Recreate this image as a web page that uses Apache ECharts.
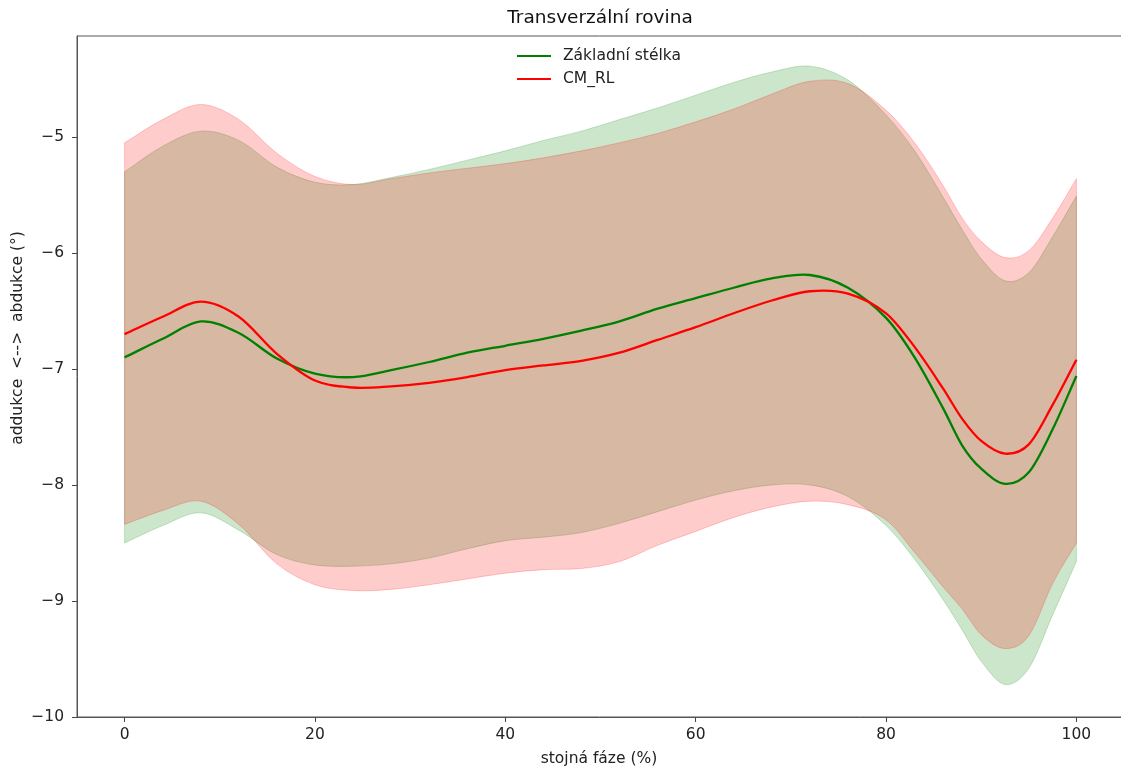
<!DOCTYPE html>
<html>
<head>
<meta charset="utf-8">
<script src="https://cdn.jsdelivr.net/npm/echarts@6/dist/echarts.min.js"></script>
<style>
html,body{margin:0;padding:0;background:#fff;}
#chart{width:1121px;height:769px;}
</style>
</head>
<body>
<div id="chart"></div>
<script>
// stance phase (%)
const xs = [0,4,8,12,16,20,24,28,32,36,40,44,48,52,56,60,64,68,72,76,80,83,86,88,90,92.5,95,97.5,100];
// Základní stélka (green)
const greenMean  = [-6.90,-6.74,-6.59,-6.69,-6.91,-7.04,-7.07,-7.01,-6.94,-6.86,-6.80,-6.74,-6.67,-6.59,-6.48,-6.39,-6.30,-6.22,-6.19,-6.30,-6.56,-6.90,-7.34,-7.66,-7.86,-7.99,-7.89,-7.52,-7.06];
const greenUpper = [-5.30,-5.08,-4.95,-5.03,-5.26,-5.39,-5.41,-5.35,-5.28,-5.20,-5.12,-5.03,-4.95,-4.85,-4.75,-4.64,-4.53,-4.44,-4.39,-4.51,-4.81,-5.12,-5.52,-5.80,-6.05,-6.24,-6.17,-5.86,-5.51];
const greenLower = [-8.50,-8.35,-8.24,-8.39,-8.60,-8.69,-8.70,-8.68,-8.63,-8.55,-8.48,-8.45,-8.41,-8.33,-8.23,-8.13,-8.05,-8.00,-8.00,-8.10,-8.35,-8.64,-8.99,-9.25,-9.52,-9.72,-9.58,-9.12,-8.66];
// CM_RL (red)
const redMean  = [-6.70,-6.55,-6.42,-6.55,-6.87,-7.10,-7.16,-7.15,-7.12,-7.07,-7.01,-6.97,-6.93,-6.86,-6.75,-6.64,-6.52,-6.41,-6.33,-6.35,-6.52,-6.81,-7.17,-7.43,-7.62,-7.73,-7.65,-7.31,-6.92];
const redUpper = [-5.05,-4.85,-4.72,-4.85,-5.14,-5.34,-5.41,-5.36,-5.31,-5.27,-5.23,-5.18,-5.12,-5.05,-4.97,-4.87,-4.76,-4.63,-4.52,-4.54,-4.77,-5.05,-5.42,-5.70,-5.90,-6.04,-5.98,-5.70,-5.36];
const redLower = [-8.34,-8.22,-8.14,-8.34,-8.68,-8.86,-8.91,-8.90,-8.86,-8.81,-8.76,-8.73,-8.72,-8.66,-8.52,-8.40,-8.28,-8.19,-8.14,-8.17,-8.30,-8.58,-8.88,-9.07,-9.29,-9.41,-9.30,-8.85,-8.50];
// tick labels
const xTicks = [0,20,40,60,80,100];
const yTicks = [-10,-9,-8,-7,-6,-5];
const names = ['Základní stélka','CM_RL'];

const FONT = 'DejaVu Sans';

// cubic Hermite curve (slopes from neighbours, non-uniform spacing) through pixel points
function splineSegs(pts) {
  const n = pts.length, s = [];
  for (let i = 0; i < n; i++) {
    const a = pts[Math.max(i - 1, 0)], b = pts[Math.min(i + 1, n - 1)];
    s.push((b[1] - a[1]) / (b[0] - a[0]));
  }
  let d = '';
  for (let i = 0; i < n - 1; i++) {
    const p1 = pts[i], p2 = pts[i + 1], h = (p2[0] - p1[0]) / 3;
    d += ' C' + (p1[0] + h) + ',' + (p1[1] + s[i] * h) + ' ' + (p2[0] - h) + ',' + (p2[1] - s[i + 1] * h) + ' ' + p2[0] + ',' + p2[1];
  }
  return d;
}

function bandSeries(id, upper, lower, rgba) {
  return {
    type:'custom', id:id, silent:true, z:1, data:[[50,-7]],
    renderItem: function(params, api) {
      const up = xs.map((x,i)=>api.coord([x, upper[i]]));
      const lo = xs.map((x,i)=>api.coord([x, lower[i]])).reverse();
      const d = 'M' + up[0][0] + ',' + up[0][1] + splineSegs(up) +
                ' L' + lo[0][0] + ',' + lo[0][1] + splineSegs(lo) + ' Z';
      return { type:'path', shape:{ pathData:d }, style:{ fill:rgba, stroke:rgba, lineWidth:1 } };
    }
  };
}

function lineSeries(name, ys, color, z) {
  return {
    type:'custom', name:name, silent:true, z:z, data:[[50,-7]],
    itemStyle:{ color:color },
    renderItem: function(params, api) {
      const p = xs.map((x,i)=>api.coord([x, ys[i]]));
      const d = 'M' + p[0][0] + ',' + p[0][1] + splineSegs(p);
      return { type:'path', shape:{ pathData:d }, style:{ fill:null, stroke:color, lineWidth:2.3 } };
    }
  };
}

const minus = v => String(v).replace('-', '\u2212');

const chart = echarts.init(document.getElementById('chart'), null, {renderer:'canvas'});
chart.setOption({
  animation:false,
  backgroundColor:'#fff',
  textStyle:{ fontFamily: FONT },
  legend:{ data: names.map(n=>({name:n, icon:'rect'})), orient:'vertical', left:512, top:43, itemWidth:34, itemHeight:2, itemGap:7,
    selectedMode:false,
    textStyle:{ fontFamily:FONT, fontSize:15.5, color:'#222', lineHeight:16, padding:[0,0,0,7] } },
  grid:{ left:77, width:1047, top:36, bottom:52, outerBoundsMode:'none', containLabel:false,
    show:true, borderColor:'#555', borderWidth:1, backgroundColor:'transparent' },
  xAxis:{ type:'value', min:-5, max:105,
    axisLine:{ show:true, onZero:false, lineStyle:{ color:'#555' } }, splitLine:{ show:false },
    axisTick:{ show:true, length:5, lineStyle:{ color:'#444' }, customValues: xTicks },
    axisLabel:{ margin:10, fontFamily:FONT, fontSize:15.5, color:'#222', customValues: xTicks, formatter: minus } },
  yAxis:{ type:'value', min:-10, max:-4.13,
    axisLine:{ show:true, onZero:false, lineStyle:{ color:'#555' } }, splitLine:{ show:false },
    axisTick:{ show:true, length:5, lineStyle:{ color:'#444' }, customValues: yTicks },
    axisLabel:{ margin:13, fontFamily:FONT, fontSize:15.5, color:'#222', customValues: yTicks, formatter: minus } },
  graphic:[
    { type:'text', x:600, y:18, style:{ text:'Transverzální rovina', font:'18.5px "DejaVu Sans"', fill:'#111', align:'center', verticalAlign:'middle' } },
    { type:'text', x:599, y:759, style:{ text:'stojná fáze (%)', font:'15.5px "DejaVu Sans"', fill:'#222', align:'center', verticalAlign:'middle' } },
    { type:'text', x:18, y:338, rotation:Math.PI/2, style:{ text:'addukce  <-->  abdukce (°)', font:'15.5px "DejaVu Sans"', fill:'#222', align:'center', verticalAlign:'middle' } }
  ],
  series:[
    bandSeries('gband', greenUpper, greenLower, 'rgba(0,128,0,0.2)'),
    bandSeries('rband', redUpper, redLower, 'rgba(255,0,0,0.2)'),
    lineSeries(names[0], greenMean, '#008000', 3),
    lineSeries(names[1], redMean, '#ff0000', 4)
  ]
});
</script>
</body>
</html>
